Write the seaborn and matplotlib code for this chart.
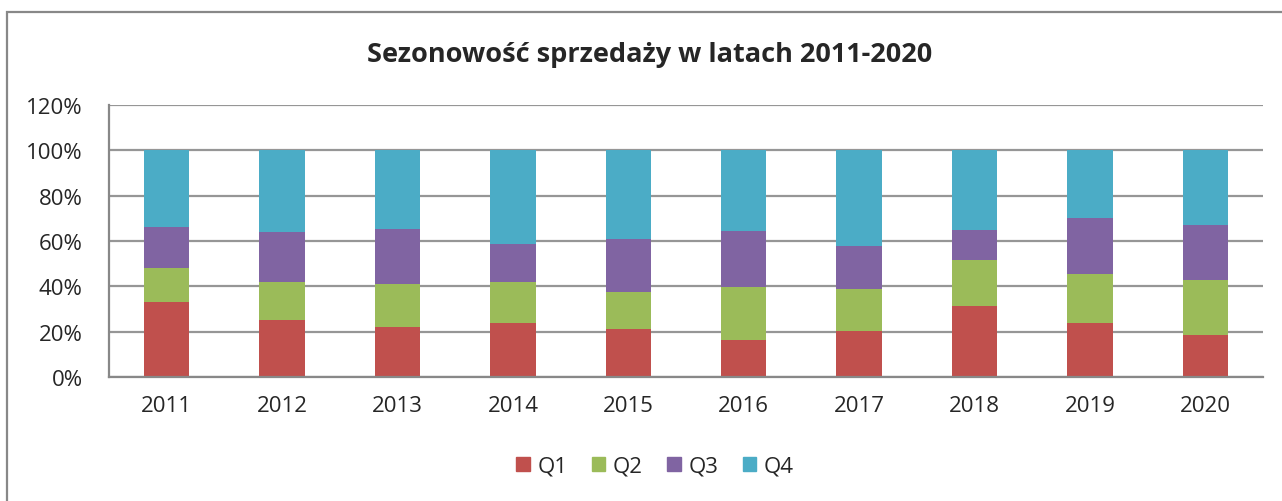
import numpy as np
import pandas as pd
import seaborn as sns
import matplotlib.pyplot as plt
from matplotlib.patches import Rectangle
from matplotlib.ticker import PercentFormatter

# udzialy kwartalow w sprzedazy rocznej (%)
years = ["2011", "2012", "2013", "2014", "2015", "2016", "2017", "2018", "2019", "2020"]
q1 = [33.0, 25.0, 21.9, 23.7, 21.1, 16.5, 20.2, 31.2, 23.7, 18.4]
q2 = [14.9, 16.7, 19.2, 18.1, 16.3, 23.1, 18.8, 20.5, 21.7, 24.6]
q3 = [18.1, 22.2, 24.4, 17.0, 23.3, 24.9, 18.9, 13.2, 24.9, 23.9]
q4 = [34.0, 36.1, 34.5, 41.2, 39.3, 35.5, 42.1, 35.1, 29.7, 33.1]
quarters = ["Q1", "Q2", "Q3", "Q4"]
colors = ["#C0504D", "#9BBB59", "#8064A2", "#4BACC6"]

sns.set_style("white")
plt.rcParams["font.family"] = ["Open Sans", "DejaVu Sans"]

df = pd.DataFrame({"year": years, "Q1": q1, "Q2": q2, "Q3": q3, "Q4": q4})
cum = df[quarters].cumsum(axis=1)
cum["year"] = df["year"]

fig = plt.figure(figsize=(12.82, 5.02), dpi=100)
ax = fig.add_axes([109 / 1282, 1 - 378 / 502, 1154 / 1282, 272 / 502])

# stacked bars: draw cumulative totals from the top layer down
for q, c in reversed(list(zip(quarters, colors))):
    sns.barplot(data=cum, x="year", y=q, color=c, width=0.395, ax=ax,
                saturation=1, edgecolor="none", linewidth=0)

ax.set_ylim(0, 120)
ax.set_xlim(-0.5, len(years) - 0.5)
ax.set_yticks(np.arange(0, 121, 20))
ax.yaxis.set_major_formatter(PercentFormatter(decimals=0))
ax.set_xlabel("")
ax.set_ylabel("")
ax.grid(axis="y", color="#969696", linewidth=1.6)
ax.set_axisbelow(True)
for s in ["top", "right"]:
    ax.spines[s].set_visible(False)
for s in ["left", "bottom"]:
    ax.spines[s].set_color("#888888")
    ax.spines[s].set_linewidth(1.6)

ax.set_xticks(np.arange(len(years)), years)
ax.set_xticks(np.arange(-0.5, len(years)), minor=True)
ax.tick_params(axis="x", which="major", length=0, pad=13, labelsize=16)
ax.tick_params(axis="x", which="minor", length=8, width=1.6, color="#888888")
ax.tick_params(axis="y", length=9, width=1.6, color="#888888", labelsize=16, pad=10)

fig.text(650 / 1282, 1 - 55 / 502, "Sezonowość sprzedaży w latach 2011-2020",
         ha="center", va="center", fontsize=19.5, fontweight="bold")

handles = [Rectangle((0, 0), 1, 1, color=c) for c in colors]
fig.legend(handles, quarters, loc="center", bbox_to_anchor=(655 / 1282, 1 - 467 / 502),
           ncol=4, frameon=False, fontsize=16, handlelength=0.6, handleheight=0.6,
           handletextpad=0.35, columnspacing=1.1)

fig.patches.append(Rectangle((7 / 1282, -0.1), 1.2, 1 - 13 / 502 + 0.1,
                             transform=fig.transFigure, fill=False,
                             edgecolor="#888888", linewidth=1.6))

fig.savefig("out.png", dpi=100)
